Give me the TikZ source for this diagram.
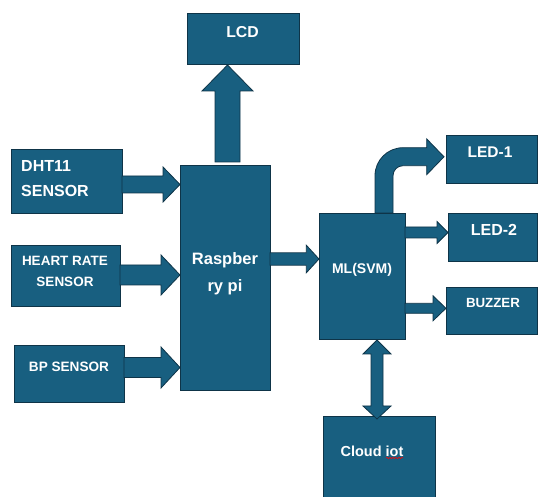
\documentclass[tikz,border=0pt]{standalone}
\usepackage{fontspec}
\setmainfont{Liberation Sans}
\usetikzlibrary{calc,decorations.pathmorphing}
\definecolor{boxfill}{RGB}{24,95,128}
\definecolor{boxline}{RGB}{14,52,72}
\newcommand\fs[2]{\fontsize{#1}{#2}\selectfont\bfseries}
% horizontal block arrow: from node #1 (east) to node #2 (west) at picture y #3
% #4 half shaft, #5 half head, #6 head length
\newcommand\harr[6]{%
  \draw[blockarr] let \p1=(#1.east), \p2=(#2.west) in
    (\x1,{-(#3-#4)*1pt}) -- ({\x2-#6pt},{-(#3-#4)*1pt}) -- ({\x2-#6pt},{-(#3-#5)*1pt})
    -- (\x2,{-#3*1pt}) -- ({\x2-#6pt},{-(#3+#5)*1pt}) -- ({\x2-#6pt},{-(#3+#4)*1pt})
    -- (\x1,{-(#3+#4)*1pt}) -- cycle;}
\begin{document}
\begin{tikzpicture}[x=1pt,y=-1pt,
  blk/.style={draw=boxline,fill=boxfill,line width=0.8pt,inner sep=0pt,outer sep=0pt},
  lbl/.style={text=white,inner sep=0pt},
  blockarr/.style={draw=boxline,fill=boxfill,line width=0.8pt,line join=miter}]
\useasboundingbox (0,0) rectangle (539,497);
\clip (0,0) rectangle (539,497);
% boxes
\node[blk,minimum width=112pt,minimum height=51pt] (lcd) at (243,38.5) {};
\node[blk,minimum width=111pt,minimum height=64pt] (dht) at (66.5,181) {};
\node[blk,minimum width=109pt,minimum height=61pt] (hr) at (65.5,275.5) {};
\node[blk,minimum width=110pt,minimum height=57pt] (bp) at (69,373.5) {};
\node[blk,minimum width=90pt,minimum height=225pt] (pi) at (225,277.5) {};
\node[blk,minimum width=86pt,minimum height=126pt] (ml) at (362,276) {};
\node[blk,minimum width=91pt,minimum height=48pt] (led1) at (491.5,159) {};
\node[blk,minimum width=89pt,minimum height=48pt] (led2) at (492.5,237) {};
\node[blk,minimum width=91pt,minimum height=47pt] (buz) at (491.5,310.5) {};
\node[blk,minimum width=112pt,minimum height=86pt] (cloud) at (379,459) {};
% labels
\node[lbl,font=\fs{15.8}{19}] (lcdt) at (242.5,32.5) {LCD};
\node[lbl,font=\fs{16}{25},align=left,anchor=west] (dhtt) at (21,178.5) {DHT11\\SENSOR};
\node[lbl,font=\fs{13.5}{21},align=center] (hrt) at (65,271.5) {HEART RATE\\SENSOR};
\node[lbl,font=\fs{13.6}{16}] (bpt) at (69,367) {BP SENSOR};
\node[lbl,font=\fs{16.5}{27},align=center] (pit) at (225,274) {Raspber\\ry pi};
\node[lbl,font=\fs{14}{17}] (mlt) at (362,270) {ML(SVM)};
\node[lbl,font=\fs{15.5}{18}] (led1t) at (490,152) {LED-1};
\node[lbl,font=\fs{16}{19}] (led2t) at (494,230) {LED-2};
\node[lbl,font=\fs{13.3}{16}] (buzt) at (493,303) {BUZZER};
\node[lbl,font=\fs{14.5}{17}] (cloudt) at (372,451) {Cloud iot};
\draw[red,line width=0.5pt,decorate,decoration={snake,amplitude=0.7pt,segment length=3pt}] (386,458) -- (403,458);
% horizontal arrows
\harr{dht}{pi}{184.5}{8.5}{17.5}{17}
\harr{hr}{pi}{275}{10}{20}{19}
\harr{bp}{pi}{367.5}{10}{20.5}{19}
\harr{pi}{ml}{259}{6.2}{13.8}{12.7}
\harr{ml}{led2}{232.5}{5.5}{11}{11}
\harr{ml}{buz}{308.3}{5}{12.5}{13}
% LCD arrow (up)
\draw[blockarr] let \p1=(pi.north), \p2=(lcd.south) in
  (215pt,{\y1+3pt}) -- (215pt,-91pt) -- (202pt,-91pt) -- (227.5pt,{\y2-1pt})
  -- (253pt,-91pt) -- (240pt,-91pt) -- (240pt,{\y1+3pt}) -- cycle;
% curved arrow to LED-1
\draw[blockarr] let \p1=(ml.north), \p2=(led1.west) in
  (375pt,\y1) -- (375pt,-175.7pt) arc[start angle=180,end angle=90,radius=28pt]
  -- (426.7pt,-147.7pt) -- (426.7pt,-138.9pt) -- ({\x2-2pt},-156.8pt)
  -- (426.7pt,-174.7pt) -- (426.7pt,-165.7pt) -- (403pt,-165.7pt)
  arc[start angle=90,end angle=180,radius=10pt] -- (393pt,\y1) -- cycle;
% double arrow ML <-> Cloud
\draw[blockarr] let \p1=(ml.south), \p2=(cloud.north) in
  (377pt,{\y1-1pt}) -- (391pt,-354pt) -- (383pt,-354pt) -- (383pt,-406pt)
  -- (391pt,-406pt) -- (377pt,{\y2-3pt}) -- (363pt,-406pt) -- (371pt,-406pt)
  -- (371pt,-354pt) -- (363pt,-354pt) -- cycle;
\end{tikzpicture}
\end{document}
